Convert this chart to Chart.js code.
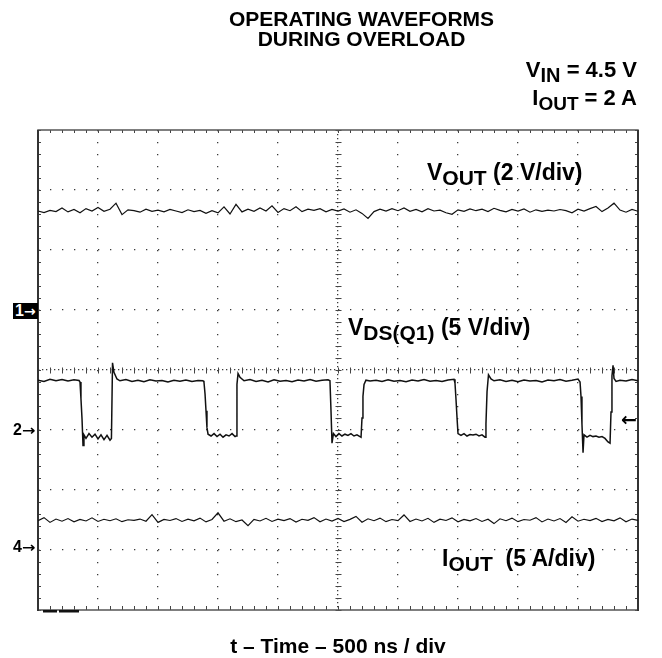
<!DOCTYPE html>
<html>
<head>
<meta charset="utf-8">
<script src="https://cdn.jsdelivr.net/npm/chart.js@4.4.1/dist/chart.umd.min.js"></script>
<style>
  html, body { margin: 0; padding: 0; background: #fff; }
  #wrap { position: relative; width: 662px; height: 658px; overflow: hidden; }
  #scope { position: absolute; left: 0; top: 0; }
  .txt {
    position: absolute; white-space: nowrap; color: #000;
    font-family: "Liberation Sans", Arial, "DejaVu Sans", sans-serif; font-weight: bold;
  }
  .sub { position: relative; top: 5px; font-size: 21px; line-height: 0; }
  .arr {
    display: inline-block; font-family: "DejaVu Sans", sans-serif; font-weight: bold;
    font-size: 14px; transform: scaleX(1.15); transform-origin: left center;
  }
</style>
</head>
<body>
<div id="wrap">
  <canvas id="scope" width="662" height="658"></canvas>

  <div class="txt" style="left:161.5px; width:400px; top:9px; text-align:center; font-size:21px; line-height:19.5px;">OPERATING WAVEFORMS<br>DURING OVERLOAD</div>

  <div class="txt" style="right:25px; top:59.4px; text-align:right; font-size:22px; line-height:22px;">V<span class="sub" style="font-size:20px">IN</span> = 4.5 V</div>
  <div class="txt" style="right:25px; top:87.4px; text-align:right; font-size:22px; line-height:22px;">I<span class="sub" style="font-size:19px">OUT</span> = 2 A</div>

  <div class="txt" style="left:427px; top:160.5px; font-size:23px; line-height:23px;">V<span class="sub">OUT</span> (2 V/div)</div>
  <div class="txt" style="left:348px; top:315.5px; font-size:23px; line-height:23px;">V<span class="sub">DS(Q1)</span> (5 V/div)</div>
  <div class="txt" style="left:442px; top:546.5px; font-size:23px; line-height:23px;">I<span class="sub">OUT</span>&nbsp; (5 A/div)</div>

  <div class="txt" style="left:138px; width:400px; top:635.2px; text-align:center; font-size:21px; line-height:21px;">t – Time – 500 ns / div</div>

  <!-- channel ground markers -->
  <div class="txt" style="left:13px; top:303px; width:25px; height:16px; background:#000; color:#fff; font-size:16px; line-height:16px; padding-left:2px; box-sizing:border-box; overflow:hidden;">1<span class="arr" style="transform:none">→</span></div>
  <div class="txt" style="left:13px; top:422px; font-size:16px; line-height:16px;">2<span class="arr">→</span></div>
  <div class="txt" style="left:13px; top:539px; font-size:16px; line-height:16px;">4<span class="arr">→</span></div>
  <div class="txt" style="left:621px; top:409px; font-size:19px; line-height:20px; font-family:'DejaVu Sans', sans-serif;">←</div>
</div>

<script>
// time base in ns (500 ns/div, 10 div)
const tNoise = [
  0, 50, 100, 150, 200, 250, 300, 350, 400, 450,
  500, 550, 600, 650, 700, 750, 800, 850, 900, 950,
  1000, 1050, 1100, 1150, 1200, 1250, 1300, 1350, 1400, 1450,
  1500, 1550, 1600, 1650, 1700, 1750, 1800, 1850, 1900, 1950,
  2000, 2050, 2100, 2150, 2200, 2250, 2300, 2350, 2400, 2450,
  2500, 2550, 2600, 2650, 2700, 2750, 2800, 2850, 2900, 2950,
  3000, 3050, 3100, 3150, 3200, 3250, 3300, 3350, 3400, 3450,
  3500, 3550, 3600, 3650, 3700, 3750, 3800, 3850, 3900, 3950,
  4000, 4050, 4100, 4150, 4200, 4250, 4300, 4350, 4400, 4450,
  4500, 4550, 4600, 4650, 4700, 4750, 4800, 4850, 4900, 4950,
  5000
];

// VOUT in volts (2 V/div)
const vout = [
  3.30, 3.25, 3.32, 3.28, 3.40, 3.27, 3.35, 3.24, 3.38, 3.30,
  3.42, 3.29, 3.36, 3.56, 3.18, 3.34, 3.31, 3.26, 3.36, 3.29,
  3.33, 3.27, 3.35, 3.30, 3.25, 3.34, 3.28, 3.32, 3.22, 3.31,
  3.24, 3.44, 3.20, 3.52, 3.27, 3.36, 3.29, 3.40, 3.30, 3.47,
  3.25, 3.38, 3.31, 3.44, 3.28, 3.36, 3.32, 3.38, 3.27, 3.35,
  3.30, 3.37, 3.26, 3.34, 3.22, 3.05, 3.28, 3.36, 3.30, 3.38,
  3.31, 3.40, 3.29, 3.35, 3.27, 3.38, 3.30, 3.33, 3.24, 3.19,
  3.34, 3.29, 3.37, 3.31, 3.36, 3.28, 3.39, 3.32, 3.27, 3.35,
  3.30, 3.37, 3.26, 3.34, 3.29, 3.33, 3.30, 3.35, 3.31, 3.24,
  3.36, 3.30, 3.38, 3.45, 3.28, 3.40, 3.56, 3.33, 3.26, 3.35,
  3.29
];

// IOUT in amps (5 A/div)
const iout = [
  2.45, 2.70, 2.30, 2.58, 2.40, 2.62, 2.35, 2.55, 2.42, 2.68,
  2.38, 2.56, 2.44, 2.60, 2.36, 2.52, 2.47, 2.58, 2.40, 2.95,
  2.30, 2.55, 2.46, 2.62, 2.38, 2.57, 2.43, 2.66, 2.34, 2.54,
  3.10, 2.40, 2.60, 2.36, 2.50, 2.02, 2.55, 2.42, 2.64, 2.38,
  2.57, 2.45, 2.62, 2.33, 2.56, 2.47, 2.70, 2.35, 2.58, 2.41,
  2.63, 2.37, 2.55, 2.80, 2.32, 2.60, 2.44, 2.66, 2.36, 2.54,
  2.45, 2.92, 2.38, 2.58, 2.42, 2.64, 2.30, 2.57, 2.46, 2.68,
  2.35, 2.55, 2.43, 2.62, 2.38, 2.56, 2.20, 2.60, 2.44, 2.66,
  2.36, 2.54, 2.48, 2.70, 2.34, 2.58, 2.42, 2.62, 2.30, 2.76,
  2.40, 2.56, 2.45, 2.64, 2.37, 2.55, 2.43, 2.68, 2.35, 2.58,
  2.47
];

// VDS(Q1) sample times (ns) and volts (5 V/div)
const tVds = [
  0, 50, 100, 150, 200, 250, 300, 342, 350, 358, 367, 375, 383,
  400, 425, 450, 475, 500, 525, 550, 575, 600, 612, 621, 633, 658,
  683, 733, 783, 833, 883, 933, 983, 1033, 1083, 1133, 1183, 1233, 1283, 1333, 1375,
  1383, 1392, 1400, 1408, 1417, 1442, 1467, 1492, 1517, 1542, 1567, 1592, 1617, 1642,
  1650, 1658, 1667, 1683,
  1717, 1767, 1817, 1867, 1917, 1967, 2017, 2067, 2117, 2167, 2217, 2267, 2317, 2367, 2417,
  2433, 2442, 2450, 2462, 2483, 2508, 2533, 2558, 2583, 2608, 2633, 2658, 2683, 2692,
  2700, 2708, 2717, 2733,
  2767, 2817, 2867, 2917, 2967, 3017, 3067, 3117, 3167, 3217, 3267, 3317, 3367, 3417, 3467,
  3475, 3483, 3492, 3500, 3525, 3550, 3575, 3600, 3625, 3650, 3675, 3700, 3725,
  3733, 3742, 3754, 3775,
  3800, 3850, 3900, 3950, 4000, 4050, 4100, 4150, 4200, 4250, 4300, 4350, 4400, 4450, 4500,
  4517, 4525, 4533, 4542, 4550, 4575, 4600, 4625, 4650, 4675, 4700, 4725, 4750, 4767,
  4775, 4783, 4792, 4800, 4817,
  4850, 4900, 4950, 5000
];
const vds = [
  4.15, 4.05, 4.22, 4.10, 4.20, 4.08, 4.18, 4.12, 4.00, 2.60, 0.90, -1.30, -0.40,
  -0.70, -0.30, -0.60, -0.35, -0.75, -0.40, -0.80, -0.45, -0.85, -0.70, 5.60, 4.80, 4.25,
  4.10, 4.20, 4.05, 4.15, 4.02, 4.18, 4.08, 4.12, 4.00, 4.14, 4.07, 4.16, 4.05, 4.12, 4.10,
  4.00, 3.00, 1.60, 0.20, -0.35, -0.50, -0.30, -0.55, -0.35, -0.60, -0.40, -0.50, -0.30, -0.55,
  -0.50, 3.80, 4.70, 4.40,
  4.10, 4.20, 4.05, 4.15, 4.00, 4.18, 4.06, 4.12, 4.03, 4.16, 4.08, 4.20, 4.06, 4.14, 4.18,
  4.10, 1.50, -1.10, -0.30, -0.55, -0.30, -0.50, -0.35, -0.45, -0.30, -0.50, -0.40, -0.55, -0.60,
  1.00, 2.80, 3.80, 4.15,
  4.08, 4.15, 4.05, 4.18, 4.07, 4.12, 4.02, 4.16, 4.08, 4.20, 4.06, 4.13, 4.04, 4.17, 4.22,
  3.90, 2.60, 1.00, -0.30, -0.45, -0.30, -0.50, -0.38, -0.42, -0.35, -0.50, -0.40, -0.60,
  0.50, 3.20, 4.60, 4.25,
  4.10, 4.18, 4.05, 4.15, 4.02, 4.17, 4.08, 4.13, 4.00, 4.16, 4.10, 4.20, 4.06, 4.14, 4.25,
  4.00, 2.80, 0.50, -1.90, -0.40, -0.60, -0.45, -0.55, -0.50, -0.60, -0.55, -0.70, -1.00, -1.10,
  1.50, 4.50, 5.40, 4.30, 4.05,
  4.15, 4.08, 4.20, 4.10
];

const toPoints = (ts, vs) => ts.map((t, i) => ({ x: t, y: vs[i] }));

// graticule: 0.2 div minor ticks on the frame and on the centre cross
const graticule = {
  id: 'graticule',
  beforeDatasetsDraw(chart) {
    const { ctx, chartArea: a, scales: { x, y } } = chart;
    const seg = (x1, y1, x2, y2) => { ctx.beginPath(); ctx.moveTo(x1, y1); ctx.lineTo(x2, y2); ctx.stroke(); };
    const cx = Math.round(x.getPixelForValue(2500)) + 0.5;
    const cy = Math.round(y.getPixelForValue(4)) + 0.5;
    ctx.save();
    ctx.strokeStyle = '#444';
    ctx.lineWidth = 1;
    for (let k = 0; k <= 50; k++) {
      const px = Math.round(x.getPixelForValue(k * 100)) + 0.5;
      seg(px, a.top, px, a.top + 3);
      seg(px, a.bottom - 4, px, a.bottom);
      seg(px, cy - 3, px, cy + 3);
    }
    for (let k = 0; k <= 40; k++) {
      const py = Math.round(y.getPixelForValue(k / 5)) + 0.5;
      seg(a.left, py, a.left + 3, py);
      seg(a.right - 3, py, a.right, py);
      seg(cx - 3, py, cx + 3, py);
    }
    // frame
    ctx.strokeStyle = '#555';
    ctx.lineWidth = 1.5;
    ctx.strokeRect(a.left, a.top, a.right - a.left, a.bottom - a.top);
    ctx.strokeStyle = '#333';
    ctx.lineWidth = 2;
    seg(a.left, a.top, a.left, a.bottom + 1);
    seg(a.right, a.top, a.right, a.bottom + 1);
    // trigger position bars under the screen
    ctx.fillStyle = '#111';
    ctx.fillRect(a.left + 5, a.bottom, 14, 2.5);
    ctx.fillRect(a.left + 21, a.bottom, 20, 2.5);
    ctx.restore();
  }
};

const gridColor = (ctx, edge) => (ctx.tick.value === 0 || ctx.tick.value === edge) ? 'rgba(0,0,0,0)' : '#3a3a3a';

const trace = (label, data, axis, width) => ({
  label, data, yAxisID: axis,
  borderColor: '#111', borderWidth: width,
  pointRadius: 0, tension: 0, fill: false
});

new Chart(document.getElementById('scope'), {
  type: 'line',
  data: {
    datasets: [
      trace('VOUT', toPoints(tNoise, vout), 'yVout', 1.2),
      trace('VDS(Q1)', toPoints(tVds, vds), 'yVds', 1.5),
      trace('IOUT', toPoints(tNoise, iout), 'yIout', 1.2)
    ]
  },
  options: {
    responsive: false,
    animation: false,
    events: [],
    layout: { padding: { left: 38, top: 130, right: 24, bottom: 48 } },
    plugins: { legend: { display: false }, tooltip: { enabled: false } },
    scales: {
      x: {
        type: 'linear', min: 0, max: 5000,
        ticks: { stepSize: 500, display: false },
        grid: { drawTicks: false, lineWidth: 1.3, color: c => gridColor(c, 5000) },
        border: { display: false, dash: c => c.tick.value === 2500 ? [1.3, 2.7] : [1.3, 10.7] }
      },
      y: {
        type: 'linear', min: 0, max: 8,
        ticks: { stepSize: 1, display: false },
        grid: { drawTicks: false, lineWidth: 1.3, color: c => gridColor(c, 8) },
        border: { display: false, dash: c => c.tick.value === 4 ? [1.3, 2.7] : [1.3, 10.7] }
      },
      // per-channel vertical scales: ground marker + volts(amps)/div
      yVout: { axis: 'y', display: false, min: -10, max: 6 },
      yVds: { axis: 'y', display: false, min: -15, max: 25 },
      yIout: { axis: 'y', display: false, min: -5, max: 35 }
    }
  },
  plugins: [graticule]
});
</script>
</body>
</html>
